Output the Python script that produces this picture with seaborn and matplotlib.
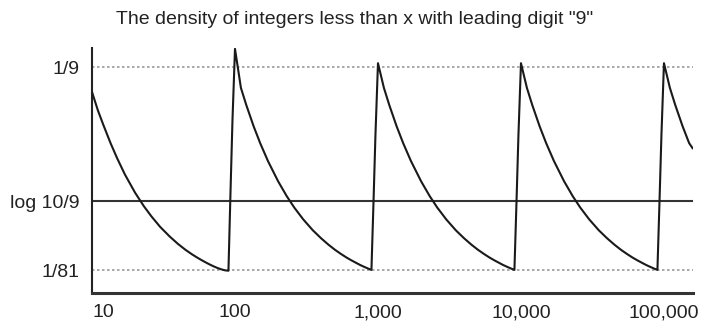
import numpy as np
import pandas as pd
import matplotlib
matplotlib.use("Agg")
import matplotlib.pyplot as plt
import seaborn as sns

# ---- data (one list per decade) ----
x_dec1 = [10, 11, 12, 13.5, 15, 17, 20, 23, 26, 30, 35, 40, 45, 50, 55, 60, 65, 70, 75, 80, 85, 90, 93, 96]
y_dec1 = [0.099, 0.090, 0.083, 0.074, 0.0667, 0.0588, 0.050, 0.0435, 0.0385, 0.0333, 0.0286, 0.025, 0.0222,
          0.020, 0.0182, 0.0167, 0.0154, 0.0143, 0.0134, 0.0127, 0.0122, 0.0120, 0.050, 0.085]

x_dec2 = [100, 110, 120, 135, 150, 170, 200, 230, 260, 300, 350, 400, 450, 500, 550, 600, 650, 700, 750,
          800, 850, 900, 930, 960]
x_dec3 = [1000, 1100, 1200, 1350, 1500, 1700, 2000, 2300, 2600, 3000, 3500, 4000, 4500, 5000, 5500, 6000,
          6500, 7000, 7500, 8000, 8500, 9000, 9300, 9600]
x_dec4 = [10000, 11000, 12000, 13500, 15000, 17000, 20000, 23000, 26000, 30000, 35000, 40000, 45000, 50000,
          55000, 60000, 65000, 70000, 75000, 80000, 85000, 90000, 93000, 96000]
y_dec2 = [0.120, 0.101, 0.0926, 0.0823, 0.0741, 0.0654, 0.0556, 0.0483, 0.0427, 0.0370, 0.0317, 0.0278,
          0.0247, 0.0222, 0.0202, 0.0185, 0.0171, 0.0159, 0.0148, 0.0139, 0.0131, 0.0124, 0.045, 0.078]
y_dec3 = [0.113, 0.101, 0.0926, 0.0823, 0.0741, 0.0654, 0.0556, 0.0483, 0.0427, 0.0370, 0.0317, 0.0278,
          0.0247, 0.0222, 0.0202, 0.0185, 0.0171, 0.0159, 0.0148, 0.0139, 0.0131, 0.0124, 0.045, 0.078]
y_dec4 = [0.113, 0.101, 0.0926, 0.0823, 0.0741, 0.0654, 0.0556, 0.0483, 0.0427, 0.0370, 0.0317, 0.0278,
          0.0247, 0.0222, 0.0202, 0.0185, 0.0171, 0.0159, 0.0148, 0.0139, 0.0131, 0.0124, 0.045, 0.078]
x_dec5 = [100000, 110000, 120000, 135000, 150000, 159000]
y_dec5 = [0.113, 0.101, 0.0926, 0.0823, 0.0741, 0.0715]

x_ticks = [10, 100, 1000, 10000, 100000]
x_labels = ["10", "100", "1,000", "10,000", "100,000"]
y_ticks = [1 / 81, np.log10(10 / 9), 1 / 9]
y_labels = ["1/81", "log 10/9", "1/9"]
title = 'The density of integers less than x with leading digit "9"'

df = pd.DataFrame({"x": x_dec1 + x_dec2 + x_dec3 + x_dec4 + x_dec5,
                   "density": y_dec1 + y_dec2 + y_dec3 + y_dec4 + y_dec5})

sns.set_style("white")
plt.rcParams["font.family"] = ["Liberation Sans Narrow", "Liberation Sans", "DejaVu Sans"]

fig = plt.figure(figsize=(7.01, 3.32), dpi=100)
ax = fig.add_axes([92 / 701, 1 - 293 / 332, (693 - 92) / 701, (293 - 48) / 332])

# reference lines
ax.axhline(1 / 9, color="#9a9a9a", lw=1.2, ls=(0, (1.5, 1.5)), zorder=1)
ax.axhline(1 / 81, color="#9a9a9a", lw=1.2, ls=(0, (1.5, 1.5)), zorder=1)
ax.axhline(np.log10(10 / 9), color="#333333", lw=1.5, zorder=1)

sns.lineplot(data=df, x="x", y="density", sort=False, color="#1a1a1a", lw=1.5, ax=ax, zorder=3)

ax.set_xscale("log")
ax.set_xlim(10, 159600)
ax.set_ylim(0.00116, 0.1204)
ax.set_xticks(x_ticks)
ax.set_xticklabels(x_labels)
ax.xaxis.set_minor_locator(matplotlib.ticker.NullLocator())
ax.set_yticks(y_ticks)
ax.set_yticklabels(y_labels)
ax.set_xlabel("")
ax.set_ylabel("")
ax.tick_params(axis="both", labelsize=14, length=6, width=1.3, color="#222222",
               labelcolor="#222222", direction="out", pad=3)
ax.tick_params(axis="x", pad=2)
for sp in ["top", "right"]:
    ax.spines[sp].set_visible(False)
ax.spines["left"].set_linewidth(1.5)
ax.spines["bottom"].set_linewidth(2.2)
ax.spines["left"].set_color("#222222")
ax.spines["bottom"].set_color("#333333")
lbls = ax.get_xticklabels()
lbls[0].set_horizontalalignment("left")

fig.text(355 / 701, 1 - 19 / 332, title, ha="center", va="center", fontsize=14, color="#222222")

fig.savefig("out.png", dpi=100)
